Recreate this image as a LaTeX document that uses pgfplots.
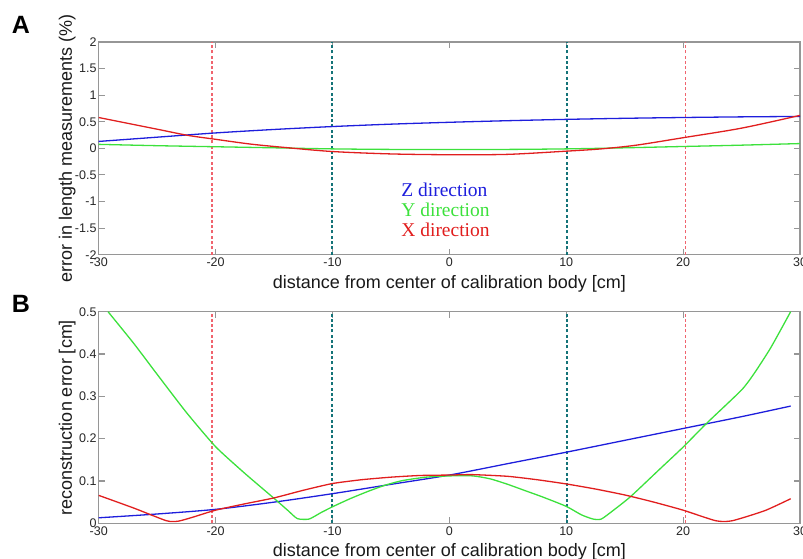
\documentclass[border=0pt]{standalone}
\usepackage{pgfplots}
\pgfplotsset{compat=1.18}
\usepackage{fontspec}
\setmainfont{Liberation Sans}
\newfontfamily\seriffont{Liberation Serif}
\definecolor{cblue}{RGB}{30,30,220}
\definecolor{cgreen}{RGB}{60,225,60}
\definecolor{cred}{RGB}{225,30,30}
\definecolor{dred}{RGB}{240,100,110}
\definecolor{dteal}{RGB}{20,115,120}
\definecolor{boxgray}{RGB}{150,150,150}
\pgfplotsset{
  myaxis/.style={
    scale only axis,
    width=701.3pt,
    xmin=-30, xmax=30,
    xtick={-30,-20,...,30},
    axis line style={boxgray, line width=1.2pt},
    tick style={boxgray, line width=1.1pt},
    major tick length=6pt,
    tick align=inside,
    /pgf/number format/assume math mode=true,
    ticklabel style={font=\fontsize{12.5}{14}\selectfont, text=black!85},
    yticklabel style={inner xsep=2pt},
    label style={font=\fontsize{18}{20}\selectfont, text=black!90},
    xlabel style={at={(axis description cs:0.5,-0.0955)}, anchor=north, inner sep=0pt},
    ylabel style={at={(axis description cs:-0.0328,0.5)}, anchor=south, inner sep=0pt},
  },
  curve/.style={line width=1.3pt},
  rdash/.style={dred, line width=1.2pt, dash pattern=on 3pt off 2.3pt},
  tdash/.style={dteal, line width=2pt, dash pattern=on 3pt off 2.3pt},
}
\begin{document}
\begin{tikzpicture}[x=1pt,y=1pt]
% ---------- panel A ----------
\begin{axis}[myaxis,
  at={(98.7pt,304.3pt)}, anchor=south west,
  height=212.7pt,
  ymin=-2, ymax=2,
  ytick={-2,-1.5,...,2},
  xlabel={distance from center of calibration body [cm]},
  ylabel={error in length measurements (\%)},
]
\addplot[rdash] coordinates {(-20.3,-2) (-20.3,2)};
\addplot[rdash] coordinates {(20.2,-2) (20.2,2)};
\addplot[tdash] coordinates {(-10,-2) (-10,2)};
\addplot[tdash] coordinates {(10.05,-2) (10.05,2)};
% Z direction
\addplot[curve, cblue, smooth] coordinates {
(-30,0.13) (-25,0.21) (-20,0.29) (-15,0.355) (-10,0.41) (-5,0.455) (0,0.49)
(5,0.52) (10,0.545) (15,0.565) (20,0.58) (25,0.592) (30,0.60)};
% Y direction
\addplot[curve, cgreen, smooth] coordinates {
(-30,0.075) (-25,0.05) (-20,0.03) (-15,0.01) (-10,-0.01) (-5,-0.02) (0,-0.02)
(5,-0.02) (10,-0.01) (15,0.01) (20,0.035) (25,0.06) (30,0.09)};
% X direction
\addplot[curve, cred, smooth] coordinates {
(-30,0.58) (-25,0.36) (-22.4,0.245) (-20,0.17) (-17,0.08) (-14,0.015) (-10,-0.06)
(-5,-0.105) (0,-0.12) (5,-0.113) (10,-0.053) (13,-0.01) (16,0.06) (20,0.2) (25,0.38) (30,0.62)};
\node[anchor=base west, inner sep=0pt, text=cblue, font=\seriffont\fontsize{19.5}{21}\selectfont] at (axis cs:-4.12,-0.915) {Z direction};
\node[anchor=base west, inner sep=0pt, text=cgreen, font=\seriffont\fontsize{19.5}{21}\selectfont] at (axis cs:-4.12,-1.29) {Y direction};
\node[anchor=base west, inner sep=0pt, text=cred, font=\seriffont\fontsize{19.5}{21}\selectfont] at (axis cs:-4.12,-1.667) {X direction};
\end{axis}
% ---------- panel B ----------
\begin{axis}[myaxis,
  at={(98.7pt,35.7pt)}, anchor=south west,
  height=211.6pt,
  ymin=0, ymax=0.5,
  ytick={0,0.1,...,0.5},
  xlabel={distance from center of calibration body [cm]},
  ylabel={reconstruction error [cm]},
]
\addplot[rdash] coordinates {(-20.3,0) (-20.3,0.5)};
\addplot[rdash] coordinates {(20.2,0) (20.2,0.5)};
\addplot[tdash] coordinates {(-10,0) (-10,0.5)};
\addplot[tdash] coordinates {(10.05,0) (10.05,0.5)};
% Z
\addplot[curve, cblue, smooth] coordinates {
(-30,0.013) (-25,0.022) (-20,0.033) (-15,0.05) (-10,0.07) (-5,0.092) (0,0.114)
(5,0.141) (10,0.168) (15,0.196) (20,0.224) (25,0.252) (29.2,0.277)};
% Y
\addplot[curve, cgreen, smooth, tension=0.35] coordinates {
(-29.2,0.5) (-27,0.425) (-25,0.352) (-22.5,0.262) (-20,0.181) (-17.5,0.118) (-15,0.059)
(-13.8,0.03) (-13,0.011) (-12,0.01) (-11,0.025) (-10,0.039) (-8.5,0.058) (-7,0.075) (-5.5,0.09) (-4,0.101)
(-2,0.109) (0,0.112) (2,0.112) (3.5,0.105) (5,0.092) (6.5,0.077) (8,0.062) (10,0.04)
(11.3,0.02) (12.3,0.01) (13,0.01) (14,0.03) (15.5,0.063) (18,0.128) (20,0.18)
(22,0.236) (25,0.315) (26.1,0.355) (27.5,0.415) (29.2,0.5)};
% X
\addplot[curve, cred, smooth, tension=0.35] coordinates {
(-30,0.066) (-27,0.036) (-24.2,0.006) (-23.2,0.005) (-22,0.014) (-20,0.031) (-17.5,0.046)
(-15,0.06) (-12.5,0.078) (-10,0.094) (-7.5,0.103) (-5,0.109) (-2.5,0.113) (0,0.114) (2,0.115)
(5,0.111) (7.5,0.103) (10,0.093) (12.5,0.081) (15,0.067) (17.5,0.05) (20,0.031)
(22.8,0.006) (24.2,0.006) (27,0.03) (29.2,0.058)};
\end{axis}
\node[anchor=base west, inner sep=0pt, font=\bfseries\fontsize{25}{27}\selectfont] at (11.7pt,525.7pt) {A};
\node[anchor=base west, inner sep=0pt, font=\bfseries\fontsize{25}{27}\selectfont] at (11.7pt,246.7pt) {B};
\pgfresetboundingbox
\useasboundingbox (0pt,0pt) rectangle (803pt,559pt);
\end{tikzpicture}
\end{document}
